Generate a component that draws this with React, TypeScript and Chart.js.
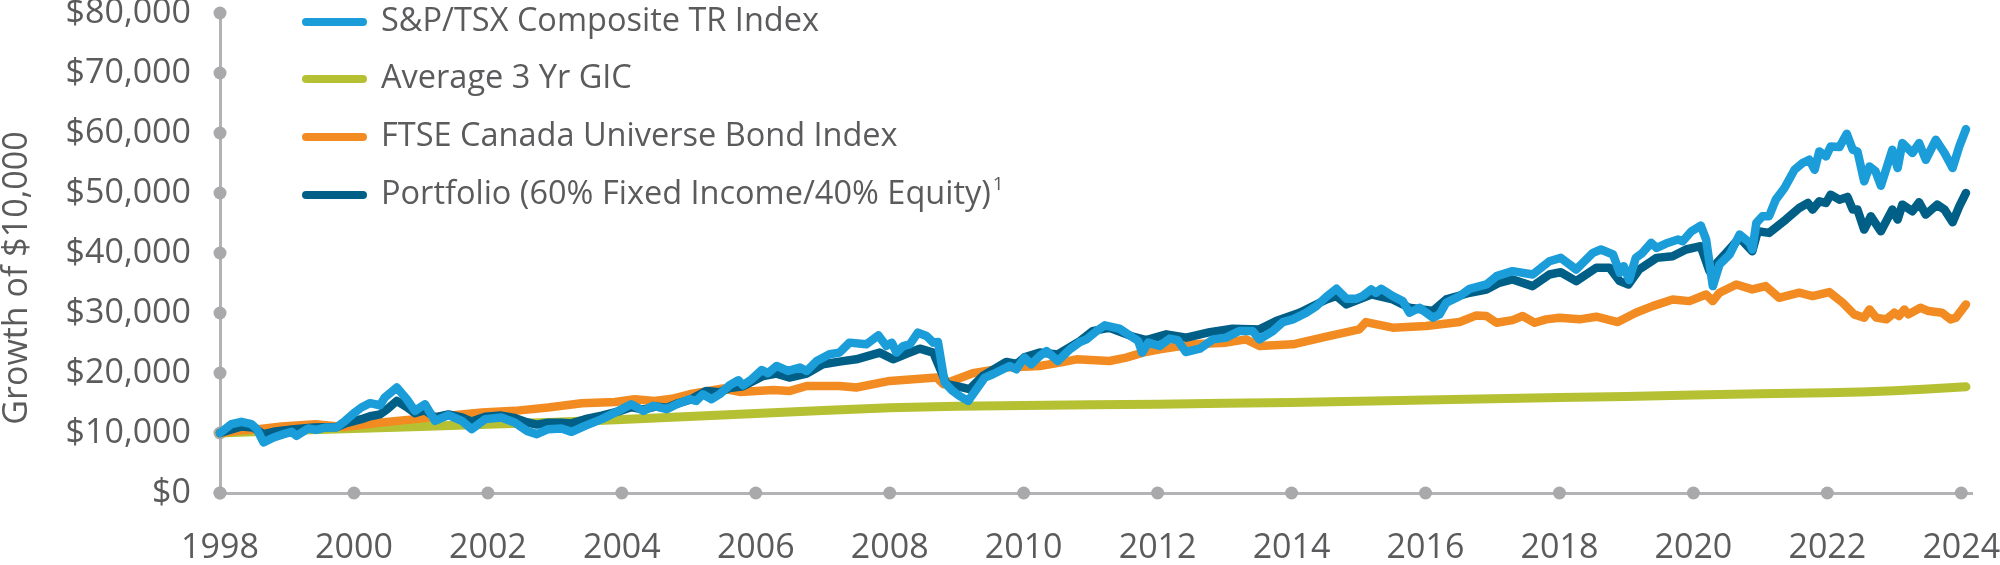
import React, { useEffect, useRef } from "react";
import { Chart, registerables } from "chart.js";

Chart.register(...registerables);

// ---------- Data ----------
const seriesLabels = [
  "S&P/TSX Composite TR Index",
  "Average 3 Yr GIC",
  "FTSE Canada Universe Bond Index",
  "Portfolio (60% Fixed Income/40% Equity)",
];
const portfolioFootnote = "1";
const yAxisTitle = "Growth of $10,000";

const xTickYears = [1998, 2000, 2002, 2004, 2006, 2008, 2010, 2012, 2014, 2016, 2018, 2020, 2022, 2024];
const yTickValues = [0, 10000, 20000, 30000, 40000, 50000, 60000, 70000, 80000];

const tsxYears = [
  1998.0, 1998.17, 1998.32, 1998.47, 1998.55, 1998.65, 1998.8, 1998.95, 1999.07, 1999.14, 1999.32, 1999.44,
  1999.57, 1999.74, 1999.87, 2000.0, 2000.11, 2000.24, 2000.39, 2000.46, 2000.64, 2000.79, 2000.91, 2001.06,
  2001.21, 2001.41, 2001.61, 2001.76, 2001.96, 2002.2, 2002.4, 2002.58, 2002.73, 2002.9, 2003.1, 2003.25,
  2003.45, 2003.7, 2003.95, 2004.14, 2004.32, 2004.47, 2004.67, 2004.82, 2005.01, 2005.11, 2005.21, 2005.34,
  2005.46, 2005.61, 2005.74, 2005.81, 2005.94, 2006.09, 2006.18, 2006.31, 2006.48, 2006.66, 2006.76, 2006.91,
  2007.1, 2007.25, 2007.4, 2007.65, 2007.83, 2007.95, 2008.03, 2008.1, 2008.2, 2008.3, 2008.42, 2008.55,
  2008.65, 2008.72, 2008.82, 2008.94, 2009.04, 2009.17, 2009.42, 2009.54, 2009.69, 2009.79, 2009.89, 2010.01,
  2010.11, 2010.24, 2010.34, 2010.51, 2010.69, 2010.84, 2010.94, 2011.09, 2011.21, 2011.43, 2011.58, 2011.71,
  2011.77, 2011.86, 2012.03, 2012.18, 2012.3, 2012.42, 2012.63, 2012.83, 2013.02, 2013.22, 2013.42, 2013.52,
  2013.72, 2013.87, 2014.02, 2014.22, 2014.37, 2014.52, 2014.67, 2014.82, 2014.97, 2015.06, 2015.19, 2015.26,
  2015.34, 2015.51, 2015.66, 2015.76, 2015.91, 2016.11, 2016.21, 2016.31, 2016.51, 2016.66, 2016.91, 2017.06,
  2017.3, 2017.6, 2017.85, 2018.02, 2018.25, 2018.5, 2018.62, 2018.8, 2018.9, 2018.96, 2019.04, 2019.14,
  2019.24, 2019.37, 2019.45, 2019.59, 2019.77, 2019.84, 2019.97, 2020.11, 2020.19, 2020.29, 2020.39, 2020.54,
  2020.69, 2020.84, 2020.88, 2020.94, 2021.03, 2021.13, 2021.23, 2021.36, 2021.51, 2021.63, 2021.73, 2021.81,
  2021.88, 2021.98, 2022.05, 2022.18, 2022.29, 2022.38, 2022.45, 2022.55, 2022.63, 2022.72, 2022.8, 2022.97,
  2023.05, 2023.12, 2023.27, 2023.37, 2023.47, 2023.62, 2023.75, 2023.87, 2023.97, 2024.07,
];
const tsxValues = [
  10000, 11470, 11860, 11470, 10640, 8430, 9260, 9810, 10190, 9530, 10760, 10530,
  10920, 10920, 12030, 13300, 14250, 14970, 14630, 15910, 17580, 15630, 13690, 14800,
  12030, 12970, 12030, 10640, 12310, 12590, 11760, 10360, 9810, 10640, 10760, 10190,
  11190, 12310, 13690, 14800, 13690, 14520, 13970, 14800, 15630, 15350, 16460, 15630,
  16460, 17960, 18790, 17960, 18960, 20500, 19960, 21170, 20340, 20900, 20340, 22000,
  23120, 23400, 25060, 24780, 26280, 24500, 25060, 23400, 24500, 24780, 26720, 26160,
  25060, 25160, 18410, 17010, 16180, 15350, 19240, 19790, 20620, 21170, 20620, 22570,
  21450, 22830, 23660, 22000, 23950, 25160, 25610, 26990, 27940, 27390, 26280, 25330,
  23400, 25060, 24500, 25730, 25490, 23500, 24060, 25610, 25890, 26990, 26990, 25610,
  26990, 28490, 28940, 30050, 31150, 32710, 34040, 32380, 32380, 32820, 33930, 33380,
  34040, 32820, 31980, 30050, 30880, 29220, 29770, 31710, 32820, 34040, 34760, 36140,
  36970, 36420, 38630, 39190, 37250, 40030, 40580, 39750, 36700, 37800, 35500, 39190,
  40030, 41690, 40860, 41580, 42240, 41960, 43620, 44570, 42240, 34480, 38080, 39750,
  43070, 41690, 40580, 45020, 46120, 46120, 48890, 50830, 53880, 55000, 55540, 53880,
  56930, 56100, 57760, 57650, 59870, 57200, 56930, 51940, 54430, 53600, 51220, 57200,
  54160, 58320, 56660, 58320, 55540, 58870, 56660, 54160, 57760, 60650,
];

const gicYears = [
  1998.0, 1999.0, 2000.0, 2001.0, 2002.0, 2003.0, 2004.0, 2005.0, 2006.0, 2007.0, 2008.0, 2009.0, 2010.0,
  2011.0, 2012.0, 2013.0, 2014.0, 2015.0, 2016.0, 2017.0, 2018.0, 2019.0, 2020.0, 2021.0, 2022.0, 2022.5,
  2023.0, 2023.5, 2024.07,
];
const gicValues = [
  10000, 10400, 10750, 11100, 11450, 11800, 12250, 12750, 13250, 13750, 14200, 14450, 14600,
  14700, 14800, 14950, 15100, 15300, 15500, 15700, 15900, 16100, 16350, 16550, 16700, 16850,
  17050, 17350, 17700,
];

const bondYears = [
  1998.0, 1998.3, 1998.57, 1998.92, 1999.42, 1999.85, 2000.41, 2000.91, 2001.41, 2001.91, 2002.4, 2002.9,
  2003.4, 2003.9, 2004.19, 2004.49, 2004.75, 2005.01, 2005.51, 2005.76, 2006.26, 2006.51, 2006.76, 2007.25,
  2007.5, 2008.0, 2008.5, 2008.7, 2008.8, 2009.0, 2009.24, 2009.74, 2010.24, 2010.54, 2010.79, 2011.28,
  2011.53, 2011.78, 2012.03, 2012.53, 2013.02, 2013.32, 2013.52, 2014.02, 2014.52, 2015.01, 2015.11, 2015.51,
  2016.01, 2016.51, 2016.76, 2016.91, 2017.06, 2017.3, 2017.45, 2017.63, 2017.8, 2018.0, 2018.3, 2018.55,
  2018.87, 2019.14, 2019.39, 2019.69, 2019.94, 2020.19, 2020.29, 2020.39, 2020.64, 2020.88, 2021.08, 2021.28,
  2021.58, 2021.78, 2022.03, 2022.23, 2022.4, 2022.55, 2022.63, 2022.73, 2022.88, 2023.0, 2023.07, 2023.15,
  2023.21, 2023.39, 2023.51, 2023.71, 2023.84, 2023.92, 2024.07,
];
const bondValues = [
  10000, 10400, 10640, 11090, 11470, 11000, 11760, 12310, 12860, 13420, 13690, 14250,
  14970, 15180, 15630, 15350, 15700, 16460, 17410, 16850, 17180, 17010, 17840, 17840,
  17580, 18680, 19070, 19240, 18130, 18960, 19960, 20900, 21170, 21730, 22280, 22000,
  22570, 23400, 23950, 24780, 25060, 25610, 24500, 24780, 26060, 27270, 28490, 27560,
  27820, 28490, 29600, 29490, 28380, 28820, 29490, 28380, 28940, 29220, 28940, 29380,
  28490, 30050, 31150, 32260, 31980, 33090, 31980, 33380, 34760, 33930, 34480, 32540,
  33380, 32820, 33490, 31710, 29770, 29220, 30600, 29220, 28940, 30050, 29490, 30600,
  29770, 30880, 30320, 30050, 28940, 29220, 31430,
];

const portfolioYears = [
  1998.0, 1998.32, 1998.5, 1998.65, 1998.8, 1999.07, 1999.4, 1999.74, 1999.9, 2000.11, 2000.24, 2000.39,
  2000.5, 2000.64, 2000.79, 2000.91, 2001.06, 2001.21, 2001.41, 2001.61, 2001.76, 2001.96, 2002.2, 2002.4,
  2002.58, 2002.73, 2002.9, 2003.1, 2003.25, 2003.45, 2003.7, 2003.95, 2004.14, 2004.32, 2004.5, 2004.67,
  2004.82, 2005.01, 2005.26, 2005.46, 2005.61, 2005.81, 2006.11, 2006.31, 2006.5, 2006.76, 2007.0, 2007.25,
  2007.5, 2007.85, 2008.05, 2008.25, 2008.45, 2008.65, 2008.85, 2009.0, 2009.19, 2009.39, 2009.74, 2009.9,
  2010.01, 2010.24, 2010.51, 2010.84, 2011.03, 2011.28, 2011.63, 2011.83, 2012.13, 2012.43, 2012.78, 2013.12,
  2013.52, 2013.77, 2014.12, 2014.52, 2014.67, 2014.82, 2015.19, 2015.51, 2015.76, 2016.11, 2016.31, 2016.66,
  2016.91, 2017.1, 2017.3, 2017.6, 2017.85, 2018.02, 2018.25, 2018.55, 2018.75, 2018.9, 2019.03, 2019.19,
  2019.45, 2019.69, 2019.89, 2020.11, 2020.24, 2020.49, 2020.69, 2020.88, 2020.96, 2021.13, 2021.38, 2021.58,
  2021.71, 2021.78, 2021.88, 2021.98, 2022.05, 2022.18, 2022.3, 2022.38, 2022.45, 2022.55, 2022.65, 2022.8,
  2022.97, 2023.05, 2023.12, 2023.27, 2023.37, 2023.47, 2023.64, 2023.75, 2023.87, 2023.97, 2024.07,
];
const portfolioValues = [
  10000, 11100, 10900, 9800, 10200, 10600, 10900, 11000, 11700, 12300, 12800, 13100,
  14000, 15350, 14300, 13300, 13800, 12600, 13100, 12600, 11900, 12700, 12900, 12500,
  11800, 11400, 11700, 11700, 11600, 12300, 12900, 13600, 14300, 13900, 14400, 14200,
  14900, 15500, 17000, 16800, 17500, 17800, 19500, 19900, 19240, 19900, 21450, 21900,
  22280, 23400, 22280, 23200, 24060, 23400, 18130, 17800, 17300, 19510, 21840, 21500,
  22600, 23400, 23100, 25330, 26990, 27550, 26060, 25490, 26440, 25890, 26820, 27390,
  27270, 28650, 30050, 32260, 32820, 31430, 33090, 32260, 30880, 30320, 32260, 33380,
  33900, 35040, 35590, 34480, 36420, 36800, 35310, 37530, 37530, 35310, 34760, 37250,
  39190, 39460, 40580, 41130, 37000, 40030, 42520, 40300, 43620, 43350, 45570, 47510,
  48340, 47230, 48620, 48340, 49720, 48890, 49340, 47230, 47230, 43900, 46120, 43620,
  47230, 45570, 48060, 46950, 48450, 46400, 48060, 47230, 45120, 47780, 50010,
];

// ---------- Styling ----------
const COLORS = {
  tsx: "#1a9dd9",
  gic: "#b5c133",
  bond: "#f28b21",
  portfolio: "#005f86",
  axis: "#b3b3b5",
  dot: "#a9a9ac",
  text: "#5b5b5d",
};
const FONT_FAMILY = "'Open Sans', 'Noto Sans', sans-serif";
const FONT_SIZE = 34;
const LEGEND_FONT_SIZE = 32.5;
const seriesColors = [COLORS.tsx, COLORS.gic, COLORS.bond, COLORS.portfolio];

function toPoints(xs: number[], ys: number[]) {
  return xs.map((x, i) => ({ x, y: ys[i] }));
}

const axisDotsPlugin = {
  id: "axisDots",
  beforeDatasetsDraw(chart: any) {
    const { ctx, chartArea, scales } = chart;
    ctx.save();
    ctx.fillStyle = COLORS.dot;
    const r = 6.5;
    yTickValues.forEach((v) => {
      const y = scales.y.getPixelForValue(v);
      ctx.beginPath();
      ctx.arc(chartArea.left, y, r, 0, Math.PI * 2);
      ctx.fill();
    });
    xTickYears.forEach((v) => {
      const x = scales.x.getPixelForValue(v);
      ctx.beginPath();
      ctx.arc(x, chartArea.bottom, r, 0, Math.PI * 2);
      ctx.fill();
    });
    ctx.restore();
  },
};

const yTitlePlugin = {
  id: "yTitle",
  afterDraw(chart: any) {
    const { ctx } = chart;
    ctx.save();
    ctx.translate(17, 278);
    ctx.rotate(-Math.PI / 2);
    ctx.font = `400 ${FONT_SIZE}px ${FONT_FAMILY}`;
    ctx.fillStyle = COLORS.text;
    ctx.textAlign = "center";
    ctx.textBaseline = "middle";
    ctx.fillText(yAxisTitle, 0, 0);
    ctx.restore();
  },
};

const legendPlugin = {
  id: "customLegend",
  afterDraw(chart: any) {
    const { ctx } = chart;
    const rowY = [22, 79, 137, 195];
    ctx.save();
    seriesLabels.forEach((label, i) => {
      const y = rowY[i];
      ctx.strokeStyle = seriesColors[i];
      ctx.lineWidth = 8;
      ctx.lineCap = "round";
      ctx.beginPath();
      ctx.moveTo(306, y);
      ctx.lineTo(363, y);
      ctx.stroke();
      ctx.font = `400 ${LEGEND_FONT_SIZE}px ${FONT_FAMILY}`;
      ctx.fillStyle = COLORS.text;
      ctx.textAlign = "left";
      ctx.textBaseline = "middle";
      ctx.fillText(label, 381, y);
      if (i === 3) {
        const w = ctx.measureText(label).width;
        ctx.font = `400 19px ${FONT_FAMILY}`;
        ctx.fillText(portfolioFootnote, 381 + w + 2, y - 10);
      }
    });
    ctx.restore();
  },
};

export default function App() {
  const canvasRef = useRef<HTMLCanvasElement | null>(null);

  useEffect(() => {
    document.body.style.margin = "0";
    const canvas = canvasRef.current;
    if (!canvas) return;

    const lineCommon = {
      borderWidth: 8.5,
      pointRadius: 0,
      pointHoverRadius: 0,
      tension: 0,
      fill: false,
      borderJoinStyle: "round" as const,
      borderCapStyle: "round" as const,
      clip: false as const,
    };

    const chart = new Chart(canvas, {
      type: "line",
      data: {
        datasets: [
          { ...lineCommon, label: seriesLabels[0], data: toPoints(tsxYears, tsxValues), borderColor: COLORS.tsx, order: 0 },
          { ...lineCommon, borderWidth: 9, label: seriesLabels[1], data: toPoints(gicYears, gicValues), borderColor: COLORS.gic, order: 3 },
          { ...lineCommon, label: seriesLabels[2], data: toPoints(bondYears, bondValues), borderColor: COLORS.bond, order: 2 },
          { ...lineCommon, label: seriesLabels[3], data: toPoints(portfolioYears, portfolioValues), borderColor: COLORS.portfolio, order: 1 },
        ],
      },
      options: {
        responsive: false,
        animation: false,
        devicePixelRatio: 1,
        layout: { padding: { top: 13, right: 28, left: 0, bottom: 0 } },
        plugins: {
          legend: { display: false },
          tooltip: { enabled: false },
          title: { display: false },
        },
        scales: {
          x: {
            type: "linear",
            min: 1998,
            max: 2024.16,
            grid: { display: false, drawTicks: false },
            border: { display: true, color: COLORS.axis, width: 3 },
            ticks: {
              padding: 35,
              color: COLORS.text,
              font: { family: FONT_FAMILY, size: FONT_SIZE, weight: "400" as any },
              callback: (v: any) => String(v),
              maxRotation: 0,
              autoSkip: false,
            },
            afterBuildTicks: (scale: any) => {
              scale.ticks = xTickYears.map((v) => ({ value: v }));
            },
            afterFit: (scale: any) => {
              scale.height = 72;
              scale.paddingLeft = 0;
              scale.paddingRight = 0;
            },
          },
          y: {
            type: "linear",
            min: 0,
            max: 80000,
            grid: { display: false, drawTicks: false },
            border: { display: true, color: COLORS.axis, width: 3 },
            ticks: {
              padding: 29,
              color: COLORS.text,
              font: { family: FONT_FAMILY, size: FONT_SIZE, weight: "400" as any },
              callback: (v: any) => "$" + Number(v).toLocaleString("en-US"),
              autoSkip: false,
            },
            afterBuildTicks: (scale: any) => {
              scale.ticks = yTickValues.map((v) => ({ value: v }));
            },
            afterFit: (scale: any) => {
              scale.width = 220;
              scale.paddingTop = 0;
              scale.paddingBottom = 0;
            },
          },
        },
      },
      plugins: [axisDotsPlugin, yTitlePlugin, legendPlugin],
    });

    return () => {
      chart.destroy();
    };
  }, []);

  return (
    <div style={{ width: 2000, height: 565, background: "#ffffff" }}>
      <canvas ref={canvasRef} width={2000} height={565} style={{ display: "block" }} />
    </div>
  );
}
